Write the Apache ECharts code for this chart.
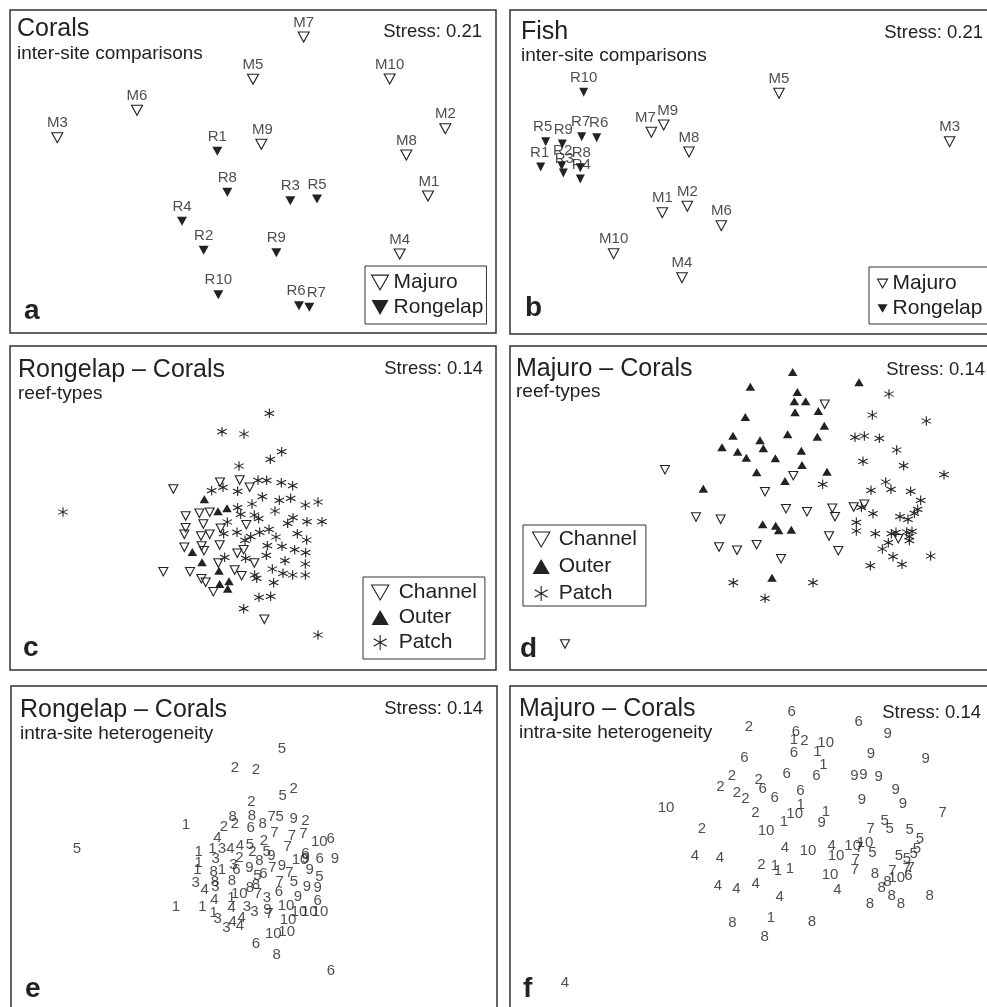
<!DOCTYPE html>
<html><head><meta charset="utf-8">
<style>html,body{margin:0;padding:0;background:#fff}#c{width:987px;height:1007px}</style>
<script src="https://cdn.jsdelivr.net/npm/echarts@6/dist/echarts.min.js"></script>
</head><body><div id="c"></div>
<script>
// Ordination scores, [axis1, axis2, site]
const corals_majuro=[[1284,588,'M1'],[1336,386,'M2'],[172,413,'M3'],[1199,762,'M4'],[759,238,'M5'],[411,331,'M6'],[911,111,'M7'],[1219,465,'M8'],[784,433,'M9'],[1169,237,'M10']];
const corals_rongelap=[[652,454,'R1'],[611,751,'R2'],[871,602,'R3'],[546,664,'R4'],[951,597,'R5'],[897,917,'R6'],[928,922,'R7'],[682,577,'R8'],[829,758,'R9'],[655,884,'R10']];
const fish_majuro=[[487,638,'M1'],[562,619,'M2'],[1349,425,'M3'],[546,833,'M4'],[837,280,'M5'],[664,677,'M6'],[454,397,'M7'],[567,456,'M8'],[491,375,'M9'],[341,761,'M10']];
const fish_rongelap=[[122,501,'R1'],[185,497,'R2'],[190,519,'R3'],[241,537,'R4'],[137,425,'R5'],[290,413,'R6'],[245,410,'R7'],[241,503,'R8'],[187,432,'R9'],[251,277,'R10']];
const rong_channel=[[130,267],[270,247],[329,240],[359,262],[167,348],[208,340],[239,337],[220,372],[167,383],[163,403],[213,408],[239,403],[272,385],[349,374],[163,442],[215,438],[222,452],[269,435],[341,449],[322,460],[373,489],[265,489],[100,515],[180,515],[214,536],[227,547],[250,575],[314,510],[335,527],[403,658]];
const rong_outer=[[223,298],[264,334],[291,325],[187,456],[216,487],[267,512],[269,552],[297,544],[293,566]];
const rong_patch=[[418,40],[276,95],[342,102],[455,155],[421,178],[327,198],[245,272],[279,262],[323,274],[384,241],[410,241],[454,248],[488,257],[397,290],[366,312],[448,301],[482,295],[526,315],[564,306],[435,333],[323,323],[332,343],[373,345],[386,356],[292,366],[489,353],[473,370],[531,365],[576,365],[281,401],[321,397],[389,397],[417,388],[362,410],[345,421],[438,411],[502,401],[530,420],[412,437],[456,439],[494,449],[527,458],[409,466],[284,472],[347,475],[465,482],[526,492],[427,507],[459,520],[488,525],[526,525],[374,525],[380,535],[431,548],[387,592],[422,589],[341,626],[-201,336],[564,705]];
const maj_channel=[[554,133],[75,329],[460,347],[375,395],[438,446],[501,455],[577,445],[585,470],[641,441],[673,433],[168,471],[242,478],[567,528],[237,561],[291,571],[350,554],[423,596],[595,572],[775,536],[-225,852]];
const maj_outer=[[458,36],[331,80],[657,67],[472,96],[463,124],[497,124],[465,157],[535,153],[316,171],[553,197],[279,227],[443,223],[532,230],[360,241],[246,262],[370,265],[484,272],[293,275],[319,293],[406,295],[486,315],[350,337],[561,335],[435,363],[190,386],[368,493],[407,497],[416,511],[454,509],[396,653]];
const maj_patch=[[747,102],[697,165],[859,183],[645,232],[673,228],[718,235],[770,270],[669,304],[791,317],[912,344],[548,373],[737,366],[753,388],[693,391],[812,394],[842,421],[833,448],[823,460],[664,442],[699,461],[780,470],[804,478],[649,487],[649,513],[706,521],[754,521],[768,517],[800,516],[816,514],[808,530],[808,542],[745,548],[727,567],[759,590],[786,613],[872,588],[691,617],[280,668],[519,668],[375,715]];
const rong_sites=[[396,58,5],[255,113,2],[318,121,2],[431,176,2],[398,197,5],[304,217,2],[248,262,8],[255,282,2],[306,257,8],[222,292,2],[302,293,6],[338,281,8],[365,260,7],[389,261,5],[431,268,9],[466,274,2],[108,284,1],[202,323,4],[373,310,7],[426,319,7],[460,312,7],[342,332,2],[413,351,7],[508,335,10],[542,326,6],[146,366,1],[187,356,1],[216,356,3],[241,356,4],[270,348,4],[300,345,5],[307,365,2],[350,366,5],[364,378,9],[466,372,6],[450,389,10],[467,388,9],[509,386,6],[555,386,9],[197,388,3],[268,383,2],[328,392,8],[146,400,1],[142,420,1],[250,405,3],[191,425,8],[216,420,1],[259,420,6],[298,415,9],[367,414,7],[396,408,9],[418,428,7],[479,419,9],[322,437,5],[340,431,6],[508,440,5],[137,458,3],[195,455,8],[246,452,8],[389,456,7],[432,457,5],[164,479,4],[196,470,3],[318,465,8],[300,473,8],[471,470,9],[503,475,9],[387,486,6],[268,493,10],[324,492,7],[444,502,9],[193,509,4],[244,505,1],[351,505,3],[503,512,6],[78,530,1],[157,530,1],[245,533,4],[291,530,3],[313,546,3],[408,527,10],[352,541,9],[358,553,7],[447,545,10],[478,545,10],[510,545,10],[191,548,1],[203,567,3],[248,575,4],[275,565,4],[229,595,3],[270,588,4],[414,570,10],[370,612,10],[410,607,10],[318,643,6],[380,675,8],[-219,357,5],[543,723,6]];
const maj_sites=[[425,52,6],[626,82,6],[297,95,2],[713,116,9],[438,110,6],[432,135,1],[463,138,2],[527,143,10],[432,173,6],[502,170,1],[663,178,9],[283,188,6],[827,193,9],[520,211,1],[246,244,2],[410,238,6],[499,243,6],[613,243,9],[640,241,9],[686,246,9],[326,256,2],[338,282,6],[211,277,2],[261,293,2],[286,311,2],[374,310,6],[451,288,6],[737,284,9],[636,316,9],[759,328,9],[452,330,1],[434,358,10],[48,338,10],[316,353,2],[528,350,1],[878,355,7],[402,380,1],[515,384,9],[704,379,5],[156,402,2],[348,407,10],[662,403,7],[719,402,5],[779,405,5],[810,433,5],[405,458,4],[545,453,4],[608,453,10],[645,445,10],[628,458,7],[801,462,5],[135,483,4],[210,488,4],[474,467,10],[558,482,10],[667,473,5],[747,483,5],[771,491,5],[791,478,5],[334,509,2],[375,512,1],[384,528,1],[420,523,1],[617,495,7],[615,524,7],[727,527,7],[770,522,7],[782,520,7],[775,543,6],[740,548,10],[675,536,8],[712,560,8],[540,540,10],[204,572,4],[259,581,4],[317,566,4],[389,606,4],[562,584,4],[695,580,8],[725,603,8],[753,626,8],[660,628,8],[839,602,8],[247,683,8],[486,680,8],[363,668,1],[344,727,8],[-255,864,4]];
const stress=['Stress: 0.21','Stress: 0.21','Stress: 0.14','Stress: 0.14','Stress: 0.14','Stress: 0.14'];
const titles=['Corals','Fish','Rongelap – Corals','Majuro – Corals','Rongelap – Corals','Majuro – Corals'];
const subtitles=['inter-site comparisons','inter-site comparisons','reef-types','reef-types','intra-site heterogeneity','intra-site heterogeneity'];
const letters=['a','b','c','d','e','f'];

// panel frames (page px) and the score origin of each panel
const panels=[
 {l:10,t:10,w:486,h:323,ox:0,oy:0,  tx:17,ty:29.5,sy:54,rx:482,ry:32,lx:24,ly:311},
 {l:510,t:10,w:600,h:324,ox:500,oy:0,tx:521,ty:32.5,sy:56,rx:983,ry:33,lx:525,ly:308.5},
 {l:10,t:346,w:486,h:324,ox:130,oy:400,tx:18,ty:370,sy:394,rx:483,ry:369,lx:23,ly:648},
 {l:510,t:346,w:600,h:324,ox:640,oy:360,tx:516,ty:369.5,sy:392,rx:985,ry:370,lx:520,ly:649},
 {l:11,t:686,w:486,h:500,ox:150,oy:730,tx:20,ty:710.5,sy:734,rx:483,ry:709,lx:25,ly:989},
 {l:510,t:686,w:600,h:500,ox:650,oy:695,tx:519,ty:709.5,sy:733,rx:981,ry:713,lx:523,ly:989}
];
const INK='#222';
const FONT='"Liberation Sans",Arial,sans-serif';
const STAR='path://M5,0 L5,10 M0.67,2.5 L9.33,7.5 M0.67,7.5 L9.33,2.5';
const DOWN='path://M0,0 L11.5,0 L5.75,10 Z';
const UP='path://M0,10 L11.5,10 L5.75,0 Z';
const labelShiftA={R6:-3,R7:7,M1:1,M9:1};
const labelShiftB={R5:-3,R9:1,R7:-1,R6:2,R2:1,R3:1,R8:1,R4:1,M7:-6,M9:4,R1:-1};

function open(name,data,g,w,h){return {type:'scatter',name,data,xAxisIndex:g,yAxisIndex:g,z:3,symbol:'triangle',symbolRotate:180,symbolSize:[w,h],itemStyle:{color:'rgba(0,0,0,0)',borderColor:INK,borderWidth:1.1,opacity:1},silent:true};}
function fill(name,data,g,w,h,rot){return {type:'scatter',name,data,xAxisIndex:g,yAxisIndex:g,z:3,symbol:'triangle',symbolRotate:rot,symbolSize:[w,h],itemStyle:{color:INK,opacity:1},silent:true};}
function star(name,data,g,s){return {type:'scatter',name,data,xAxisIndex:g,yAxisIndex:g,z:3,symbol:STAR,symbolSize:s,itemStyle:{color:'rgba(0,0,0,0)',borderColor:INK,borderWidth:1.1,opacity:1},silent:true};}
function siteLabels(data,g,shift){return {type:'scatter',data,xAxisIndex:g,yAxisIndex:g,z:1,symbol:'circle',symbolSize:0,silent:true,
  label:{show:true,position:'inside',color:INK,fontFamily:FONT,fontSize:15,formatter:p=>p.data[2]},
  labelLayout:p=>({dx:(shift[data[p.dataIndex][2]]||0),dy:-14.5})};}
function numbers(data,g){return {type:'scatter',data,xAxisIndex:g,yAxisIndex:g,z:2,symbol:'circle',symbolSize:0,silent:true,
  label:{show:true,position:'inside',color:INK,fontFamily:FONT,fontSize:15,formatter:p=>String(p.data[2])}};}

const series=[
 siteLabels(corals_majuro,0,labelShiftA),siteLabels(corals_rongelap,0,labelShiftA),
 open('Majuro',corals_majuro,0,11,10),fill('Rongelap',corals_rongelap,0,10,9,180),
 siteLabels(fish_majuro,1,labelShiftB),siteLabels(fish_rongelap,1,labelShiftB),
 open('Majuro',fish_majuro,1,10.5,10),fill('Rongelap',fish_rongelap,1,9,9,180),
 open('Channel',rong_channel,2,9,8.5),fill('Outer',rong_outer,2,9.5,8,0),star('Patch',rong_patch,2,9.5),
 open('Channel',maj_channel,3,9,8.5),fill('Outer',maj_outer,3,9.5,8,0),star('Patch',maj_patch,3,9.5),
 numbers(rong_sites,4),numbers(maj_sites,5)
];

const legendBase={orient:'vertical',borderColor:'#333',borderWidth:1,symbolKeepAspect:true,textStyle:{color:INK,fontFamily:FONT,fontSize:21},selectedMode:false};
const openStyle={itemStyle:{color:'rgba(0,0,0,0)',borderColor:INK,borderWidth:1.1}};
const solidStyle={itemStyle:{color:INK,borderColor:INK,borderWidth:0}};
const pairItems=[Object.assign({name:'Majuro',icon:DOWN},openStyle),Object.assign({name:'Rongelap',icon:DOWN},solidStyle)];
const typeItems=[Object.assign({name:'Channel',icon:DOWN},openStyle),Object.assign({name:'Outer',icon:UP},solidStyle),Object.assign({name:'Patch',icon:STAR},openStyle)];
const legends=[
 Object.assign({},legendBase,{left:365,top:266,padding:[6,3,6,6],itemWidth:17,itemHeight:15,itemGap:4,data:pairItems}),
 Object.assign({},legendBase,{left:869,top:267,padding:[6,200,5,8],itemWidth:10,itemHeight:9,itemGap:4,data:pairItems}),
 Object.assign({},legendBase,{left:363,top:577,padding:[5,8,6,8],itemWidth:27,itemHeight:15,itemGap:4,data:typeItems}),
 Object.assign({},legendBase,{left:523,top:525,padding:[4,9,2,9],itemWidth:25,itemHeight:15,itemGap:6,data:typeItems})
];

const elements=[];
panels.forEach((p,i)=>{
  const txt=(x,y,text,size,align,weight)=>elements.push({type:'text',x,y,silent:true,style:{text,fill:INK,font:(weight||'normal')+' '+size+'px '+FONT,textAlign:align,textVerticalAlign:'middle'}});
  txt(p.tx,p.ty,titles[i],25,'left');
  txt(p.tx,p.sy,subtitles[i],19,'left');
  txt(p.rx,p.ry,stress[i],18.5,'right');
  txt(p.lx,p.ly,letters[i],28,'left','bold');
});

const chart=echarts.init(document.getElementById('c'),null,{renderer:'canvas'});
chart.setOption({
  animation:false,backgroundColor:'#fff',tooltip:{show:false},
  grid:panels.map(p=>({left:p.l,top:p.t,width:p.w,height:p.h,show:true,borderColor:'#333',borderWidth:1.5,backgroundColor:'transparent',outerBoundsMode:'none'})),
  xAxis:panels.map((p,i)=>({type:'value',gridIndex:i,show:false,min:(p.l-p.ox)*3,max:(p.l+p.w-p.ox)*3,scale:true})),
  yAxis:panels.map((p,i)=>({type:'value',gridIndex:i,show:false,inverse:true,min:(p.t-p.oy)*3,max:(p.t+p.h-p.oy)*3,scale:true})),
  legend:legends,series,graphic:{elements}
});
</script></body></html>
